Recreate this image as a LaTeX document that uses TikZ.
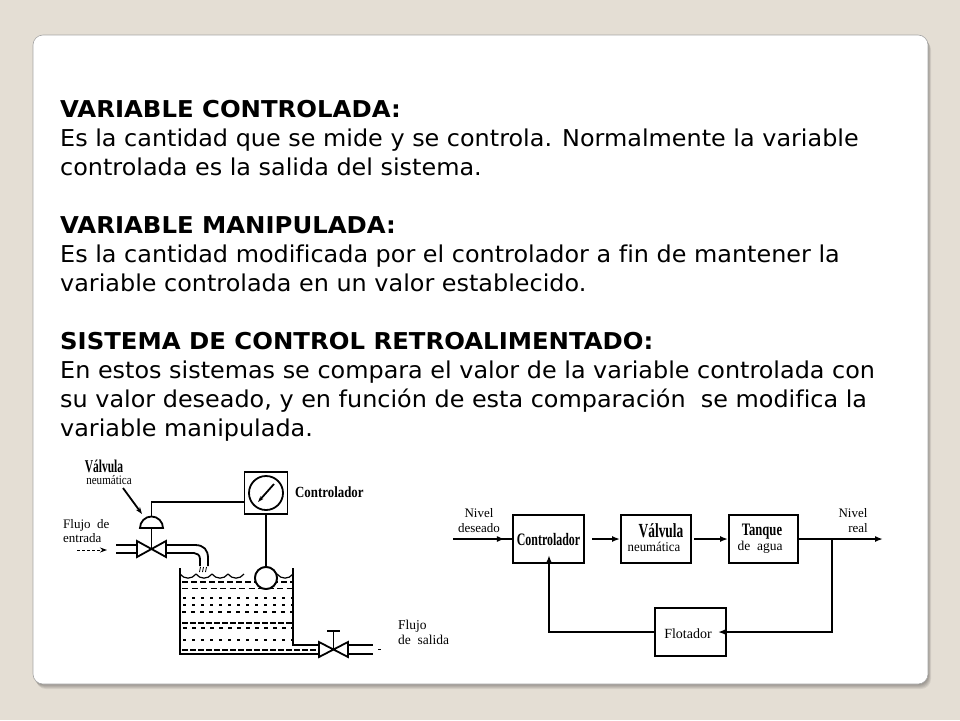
\documentclass[tikz,border=0pt]{standalone}
\usepackage{fontspec}
\setmainfont[Ligatures={NoCommon}, FakeStretch=1.03, BoldFeatures={FakeStretch=1.05}]{DejaVu Sans}
\newfontfamily\serifd{Liberation Serif}
\usetikzlibrary{arrows.meta,decorations.markings}
\definecolor{bgc}{RGB}{228,222,212}
\newcommand\cond[2][0.8]{\scalebox{#1}[1]{#2}}
\tikzset{
  body/.style={anchor=base west, inner sep=0pt, font=\fontsize{23.2}{29}\selectfont},
  head/.style={anchor=base west, inner sep=0pt, font=\fontsize{23.2}{29}\selectfont\bfseries},
  lbl/.style={inner sep=0pt, font=\serifd\fontsize{13}{14}\selectfont},
  blbl/.style={inner sep=0pt, font=\serifd\bfseries\fontsize{16}{16}\selectfont},
  ln/.style={line width=1.8pt},
  blk/.style={draw, line width=1.9pt, minimum width=70pt, minimum height=48pt, inner sep=0pt},
  tip/.style={-{Latex[length=8pt,width=6pt]}},
}
\begin{document}
\begin{tikzpicture}[x=1pt,y=-1pt]
\useasboundingbox (0,0) rectangle (960,720);
\fill[bgc] (0,0) rectangle (960,720);
% panel shadow and panel
\foreach \d in {1,2,3,4,5}{
  \fill[black, opacity=0.07, rounded corners=10pt] (33+\d*0.6,35+\d) rectangle (928+\d*0.6,684+\d);
}
\fill[white, rounded corners=10pt] (33,35) rectangle (928,684);
\draw[black!35, line width=0.6pt, rounded corners=10pt] (33,35) rectangle (928,684);

% ---- text ----
\node[head] (t1) at (60,117) {VARIABLE CONTROLADA:};
\node[body] (t2) at (60,146) {Es la cantidad que se mide y se controla. Normalmente la variable};
\node[body] (t3) at (60,175) {controlada es la salida del sistema.};
\node[head] (t4) at (60,233) {VARIABLE MANIPULADA:};
\node[body] (t5) at (60,262) {Es la cantidad modificada por el controlador a fin de mantener la};
\node[body] (t6) at (60,291) {variable controlada en un valor establecido.};
\node[head] (t7) at (60,349) {SISTEMA DE CONTROL RETROALIMENTADO:};
\node[body] (t8) at (60,378) {En estos sistemas se compara el valor de la variable controlada con};
\node[body] (t9) at (60,407) {su valor deseado, y en función de esta comparación\ \ se modifica la};
\node[body] (t10) at (60,436) {variable manipulada.};

% ---- left diagram: tank process ----
\node[blbl, font=\serifd\bfseries\fontsize{18}{18}\selectfont] (vlab) at (104,466) {\cond[0.64]{Válvula}};
\node[lbl, font=\serifd\fontsize{13}{13}\selectfont] (vlab2) at (109,480) {\cond[0.85]{neumática}};
\coordinate (dometop) at (151.5,516.5);
\coordinate (domebase) at (151.5,528);
\coordinate (valve1) at (151.5,549);
\draw[ln, -{Stealth[length=7pt,width=5pt]}] (123,488) -- (142,514);
\draw[ln] (140,528) arc[start angle=180, end angle=360, radius=11.5] -- cycle;
\draw[ln] (domebase) -- (valve1);
\node[draw, ln, minimum width=43pt, minimum height=42pt, inner sep=0pt] (ctrlbox) at (266,493) {};
\draw[ln] (dometop) -- (151.5,502) -- (ctrlbox.west |- 0,502);
\node[draw, ln, circle, minimum size=34pt, inner sep=0pt] (gauge) at (266,493) {};
\draw[ln, -{Stealth[length=6pt,width=4pt]}] (274,484) -- (258,502);
\node[blbl, anchor=west, font=\serifd\bfseries\fontsize{15.5}{16}\selectfont] (clab) at (295,492) {\cond[0.83]{Controlador}};
\node[draw, ln, circle, minimum size=22pt, inner sep=0pt, fill=white] (float) at (266,578) {};
\draw[ln] (ctrlbox.south) -- (float.north);
% inlet valve and pipes
\draw[ln, line join=miter] (137,541) -- (166,557) -- (166,541) -- (137,557) -- cycle;
\draw[ln] (116,545) -- (137,545);
\draw[ln] (116,553) -- (137,553);
\draw[ln] (166,545) -- (195,545) .. controls (204,545) and (208,550) .. (208,558) -- (208,566);
\draw[ln] (166,553) -- (194,553) .. controls (197,553) and (200,555) .. (200,559) -- (200,566);
\foreach \x in {200.5,203.5,206.5}{ \draw[line width=0.8pt] (\x,567) -- (\x-1,572); }
\node[lbl, anchor=base west] (fe1) at (63,528) {Flujo\ \ de};
\node[lbl, anchor=base west] (fe2) at (63,542) {entrada};
\coordinate (fa1) at (77,550);
\coordinate (fa2) at (107,550);
\draw[line width=1pt, dash pattern=on 3pt off 2pt, -{Stealth[length=7pt,width=5pt]}] (fa1) -- (fa2);
% water
\foreach \x in {180,196,212,228} {
  \draw[line width=1.2pt] (\x,574) .. controls (\x+4,579.5) and (\x+12,579.5) .. (\x+16,574);
}
\draw[line width=1.2pt] (277,574) .. controls (281,579.5) and (289,579.5) .. (293,574);
\draw[line width=1.4pt, dash pattern=on 6pt off 3pt] (182,582) -- (292,582);
\draw[line width=1.2pt, dash pattern=on 6pt off 3.5pt] (182,588.5) -- (292,588.5);
\draw[line width=1.2pt, dash pattern=on 3pt off 6pt] (183,598) -- (292,598);
\draw[line width=1.2pt, dash pattern=on 3pt off 6pt] (183,605) -- (292,605);
\draw[line width=1.2pt, dash pattern=on 4pt off 5pt] (182,612) -- (292,612);
\draw[line width=1.6pt, dash pattern=on 6pt off 2pt] (182,623) -- (292,623);
\draw[line width=1.2pt, dash pattern=on 4pt off 5pt] (183,628) -- (292,628);
\draw[line width=1.2pt, dash pattern=on 3pt off 6pt] (183,640) -- (292,640);
\draw[line width=1.6pt, dash pattern=on 6pt off 2pt] (182,650) -- (317,650);
\node[draw, ln, circle, minimum size=22pt, inner sep=0pt, fill=white] (float2) at (266,578) {};
% tank
\draw[ln] (180,568) -- (180,654) -- (319,654);
\draw[ln] (293,568) -- (293,645) -- (319,645);
% outlet valve
\coordinate (valve2) at (333.5,649.5);
\draw[ln, line join=miter] (319,642) -- (348,657) -- (348,642) -- (319,657) -- cycle;
\draw[ln] (valve2) -- (333.5,631);
\draw[line width=2.8pt] (327,631) -- (340,631);
\draw[ln] (348,645) -- (373,645);
\draw[ln] (348,654) -- (373,654);
\draw[line width=0.8pt] (378,649.5) -- (381,649.5);
\node[lbl, anchor=base west, font=\serifd\fontsize{13.5}{14}\selectfont] (fs1) at (398,629) {Flujo};
\node[lbl, anchor=base west, font=\serifd\fontsize{13.5}{14}\selectfont] (fs2) at (398,644) {de\ \ salida};

% ---- right diagram: block diagram ----
\node[blk, minimum width=71pt] (bc) at (548.5,539) {};
\node[blbl, font=\serifd\bfseries\fontsize{17.5}{17}\selectfont] (bct) at (548.5,540) {\cond[0.68]{Controlador}};
\node[blk] (bv) at (656,539) {};
\node[blbl, font=\serifd\bfseries\fontsize{20}{20}\selectfont] (bvt) at (661,531) {\cond[0.67]{Válvula}};
\node[lbl, font=\serifd\fontsize{13.5}{14}\selectfont] (bvt2) at (654,547) {\cond[0.95]{neumática}};
\node[blk, minimum width=69pt] (bt) at (763.5,539) {};
\node[blbl, font=\serifd\bfseries\fontsize{17.5}{17}\selectfont] (btt) at (762,532) {\cond[0.72]{Tanque}};
\node[lbl, font=\serifd\fontsize{13.5}{14}\selectfont] (btt2) at (760,547) {de\ \ agua};
\node[blk, minimum width=71pt] (bf) at (690.5,632) {};
\node[lbl, font=\serifd\fontsize{14}{14}\selectfont] (bft) at (688,634) {Flotador};
\node[lbl] (nd1) at (479,513) {Nivel};
\node[lbl] (nd2) at (479,528) {deseado};
\node[lbl] (nr1) at (853,513) {Nivel};
\node[lbl] (nr2) at (858,528) {real};
\coordinate (in) at (453,539);
\coordinate (out) at (883,539);
\coordinate (br) at (832,539);
\draw[ln, postaction={decorate}, decoration={markings, mark=at position 0.88 with {\arrow{Latex[length=8pt,width=6pt]}}}] (in) -- (bc.west);
\draw[line width=2.6pt, tip] (592,539) -- (bv.west);
\draw[line width=2.6pt, tip] (694,539) -- (bt.west);
\draw[ln, tip] (bt.east) -- (out);
\draw[ln, tip, shorten >=-9pt] (br) -- (br |- bf.east) -- (bf.east);
\draw[ln, tip, shorten >=-8pt] (bf.west) -- (549,632) -- (549,563);
\end{tikzpicture}
\end{document}
